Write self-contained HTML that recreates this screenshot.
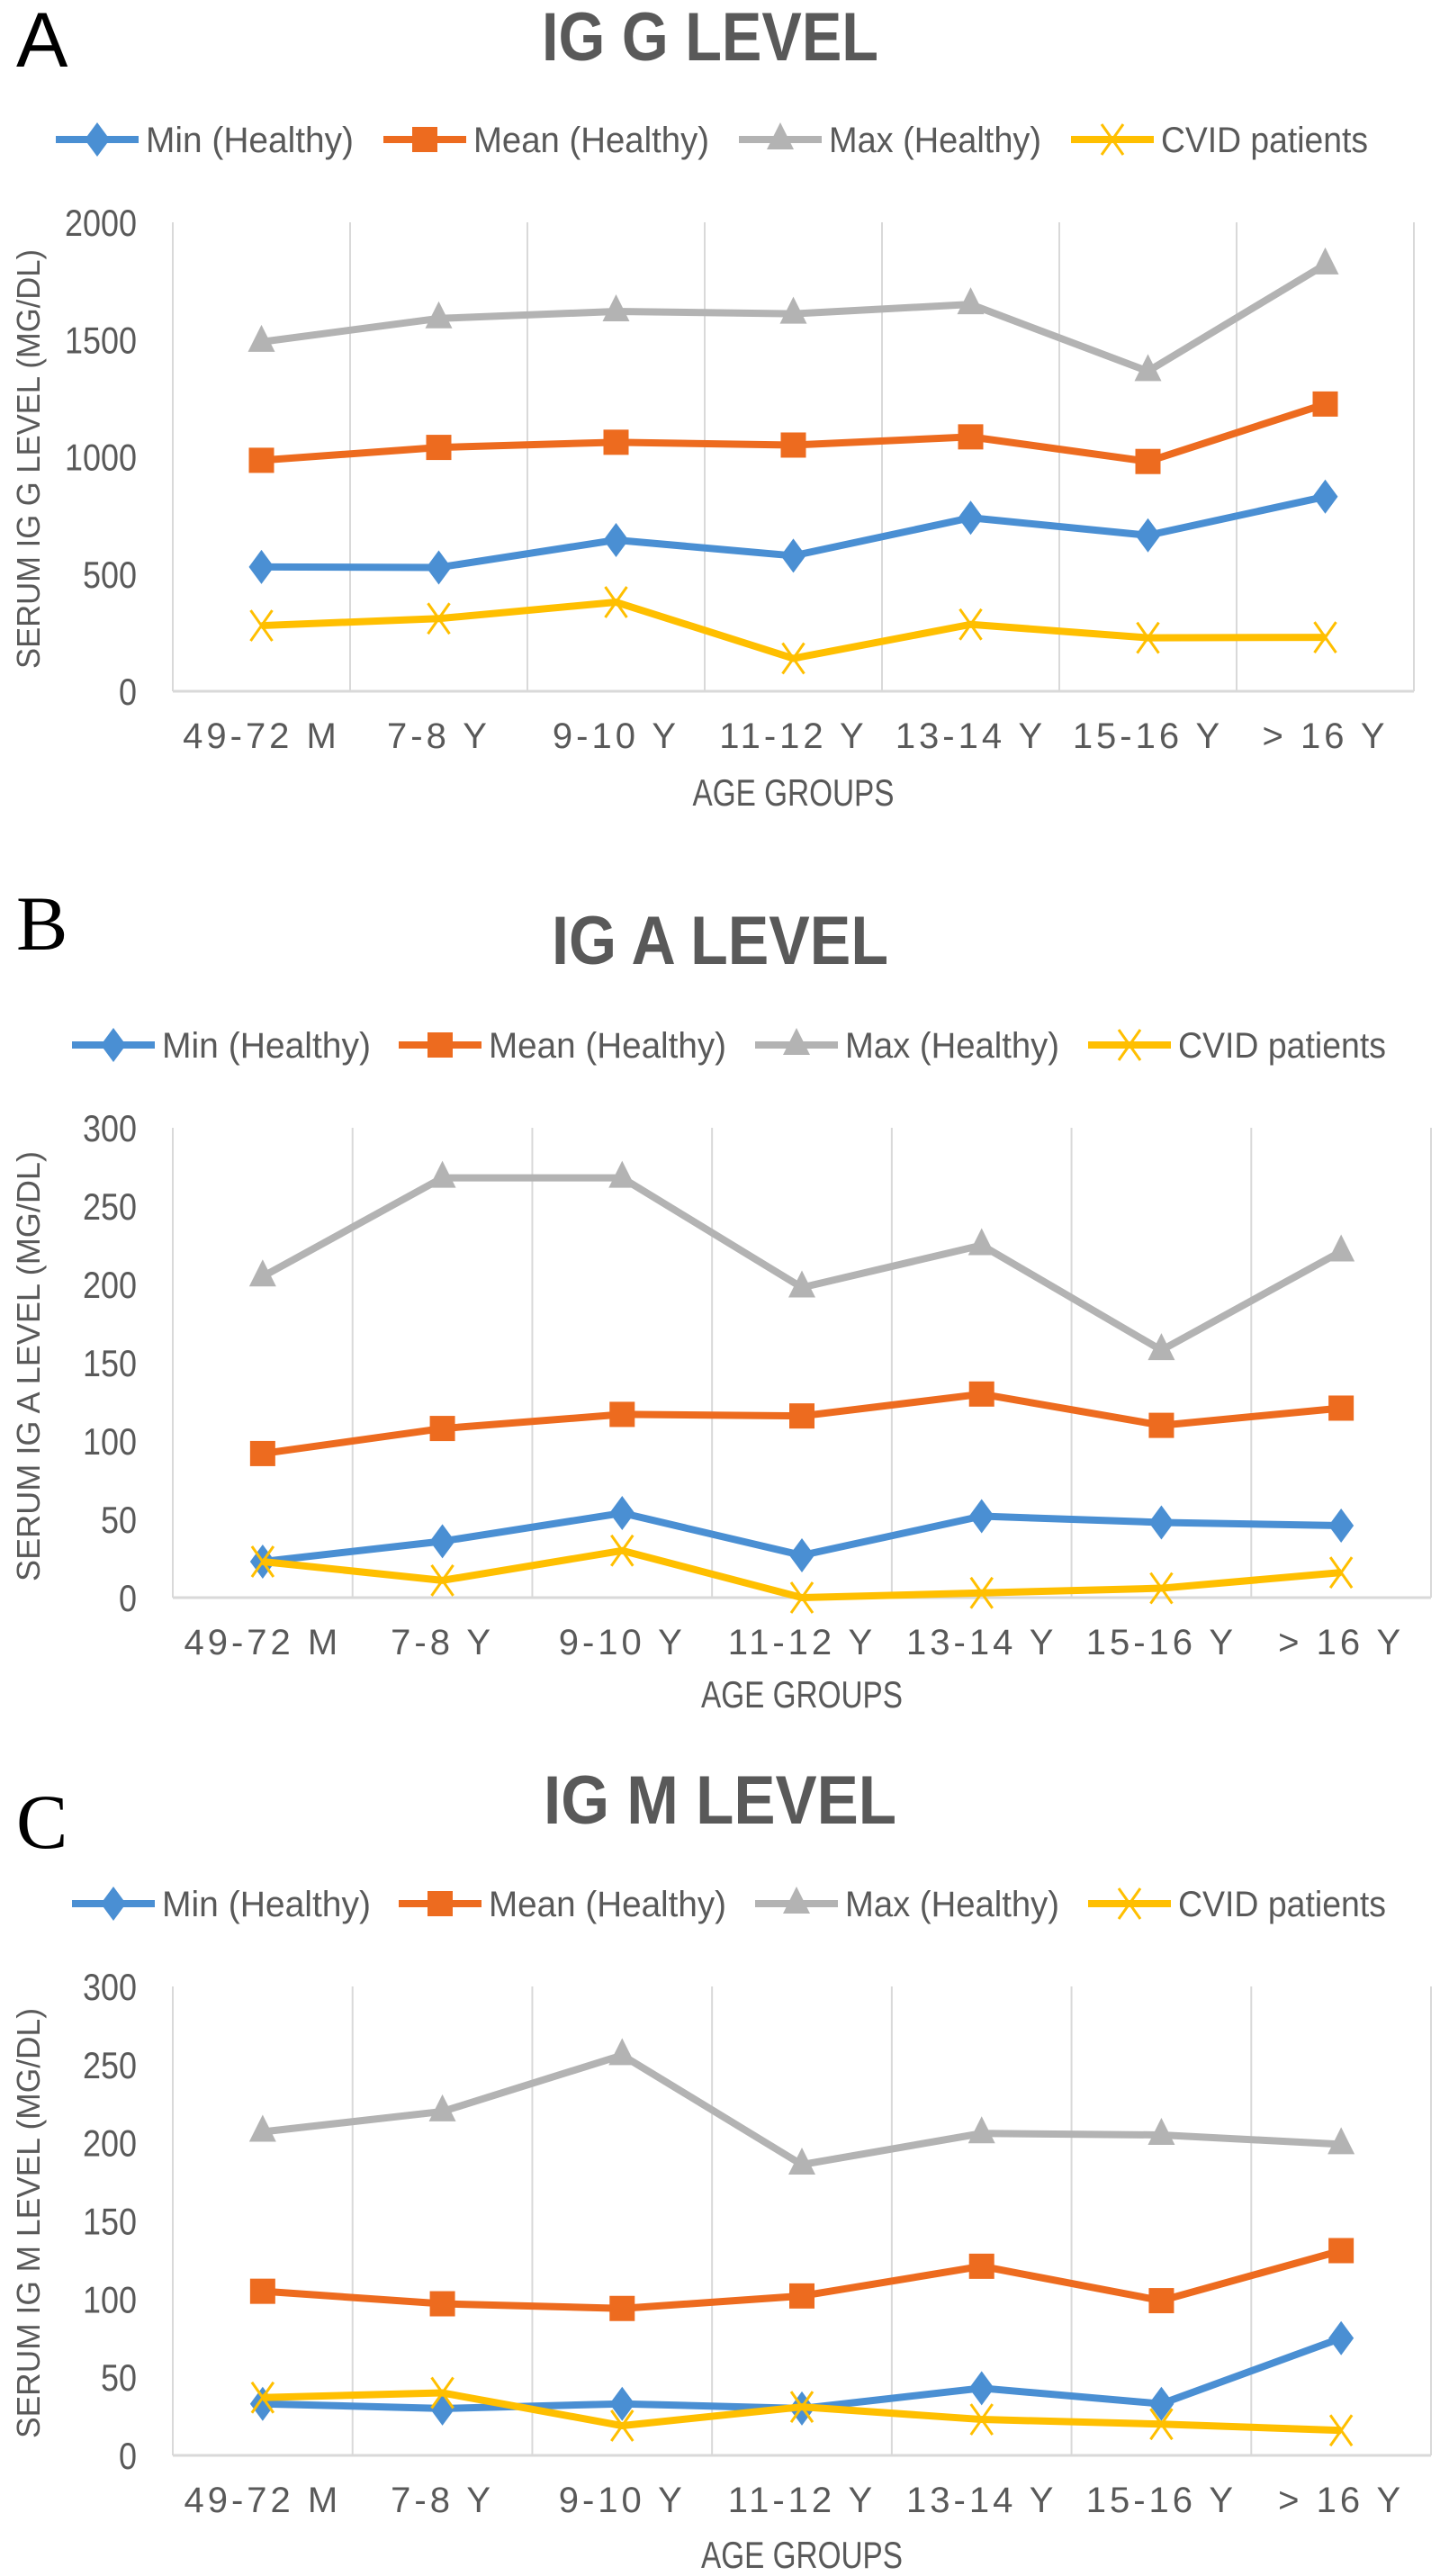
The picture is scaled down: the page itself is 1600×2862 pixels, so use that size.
<!DOCTYPE html>
<html><head><meta charset="utf-8">
<style>
html,body{margin:0;padding:0;background:#fff;}
svg{display:block;}
text{font-family:"Liberation Sans Narrow","Liberation Sans",sans-serif;}
</style></head>
<body>
<svg id="root" width="1600" height="2862" viewBox="0 0 1600 2862" xmlns="http://www.w3.org/2000/svg"></svg>
<script>
const categories = ["49-72 M","7-8 Y","9-10 Y","11-12 Y","13-14 Y","15-16 Y","> 16 Y"];
const seriesNames = ["Min (Healthy)","Mean (Healthy)","Max (Healthy)","CVID patients"];
// IgG
const iggMin  = [530,528,645,578,740,665,830];
const iggMean = [985,1040,1062,1050,1085,980,1225];
const iggMax  = [1490,1590,1620,1610,1650,1365,1820];
const iggCvid = [280,310,380,140,285,228,230];
const iggTicks = [0,500,1000,1500,2000];
// IgA
const igaMin  = [23,36,54,27,52,48,46];
const igaMean = [92,108,117,116,130,110,121];
const igaMax  = [205,268,268,198,225,158,221];
const igaCvid = [23,11,30,0,3,6,16];
const igaTicks = [0,50,100,150,200,250,300];
// IgM
const igmMin  = [33,30,33,30,43,33,75];
const igmMean = [105,97,94,102,121,99,131];
const igmMax  = [207,220,256,186,206,205,199];
const igmCvid = [37,40,19,31,23,20,16];
const igmTicks = [0,50,100,150,200,250,300];

const NS = "http://www.w3.org/2000/svg";
const root = document.getElementById('root');
const colors = ["#4a8fd3","#ed6b1f","#b3b3b3","#ffbf00"];
const markers = ["diamond","square","triangle","x"];

function mk(tag, attrs, parent){
  const e = document.createElementNS(NS, tag);
  for (const k in attrs) e.setAttribute(k, attrs[k]);
  (parent||root).appendChild(e);
  return e;
}
function marker(g, type, x, y, c){
  let m;
  if (type==="diamond") m = mk('path',{d:`M${x} ${y-19}L${x+14} ${y}L${x} ${y+19}L${x-14} ${y}Z`,fill:c},g);
  else if (type==="square") m = mk('rect',{x:x-14,y:y-14,width:28,height:28,fill:c},g);
  else if (type==="triangle") m = mk('path',{d:`M${x} ${y-19}L${x+15} ${y+11}L${x-15} ${y+11}Z`,fill:c},g);
  else m = mk('path',{d:`M${x-12} ${y-17}L${x+12} ${y+17}M${x+12} ${y-17}L${x-12} ${y+17}`,stroke:c,'stroke-width':3,fill:'none'},g);
  return m;
}

function chart(cfg){
  const g = mk('g',{});
  
  
  const L = mk('text',{x:18,y:cfg.letterY,'font-size':86,fill:'#000'},g);
  L.style.fontFamily = cfg.letterFont;
  L.textContent = cfg.letter;
  
  
  const T = mk('text',{x:cfg.titleX,y:cfg.titleY,'font-size':76,'font-weight':'bold',fill:'#595959','text-anchor':'middle',textLength:cfg.titleW,lengthAdjust:'spacingAndGlyphs'},g);
  T.textContent = cfg.title;
  
  
  for (let i=0;i<4;i++){
    const lg = mk('g',{},g);
    
    
    const lx = cfg.legendX[i];
    mk('line',{x1:lx,x2:lx+92,y1:cfg.legendY,y2:cfg.legendY,stroke:colors[i],'stroke-width':8},lg);
    marker(lg, markers[i], lx+46, cfg.legendY, colors[i]);
    const t = mk('text',{x:lx+100,y:cfg.legendY+14,'font-size':40,fill:'#595959',textLength:cfg.legendW[i],lengthAdjust:'spacingAndGlyphs'},lg);
    t.textContent = seriesNames[i];
  }
  const x0=192, x1=cfg.right, yTop=cfg.yTop, yBot=cfg.yBot;
  const n=categories.length, cw=(x1-x0)/n;
  const maxV = cfg.ticks[cfg.ticks.length-1];
  const xs = i => x0 + cw*(i+0.5);
  const ys = v => yBot - (v/maxV)*(yBot-yTop);
  for (let i=0;i<=n;i++){
    const gl = mk('line',{x1:x0+cw*i,x2:x0+cw*i,y1:yTop,y2:yBot,stroke:'#d9d9d9','stroke-width':2},g);
    
    
  }
  const ax = mk('line',{x1:x0,x2:x1,y1:yBot,y2:yBot,stroke:'#d9d9d9','stroke-width':3},g);
  
  
  cfg.ticks.forEach(v=>{
    const s = String(v);
    const t = mk('text',{x:152,y:ys(v)+15,'font-size':42,fill:'#595959','text-anchor':'end',textLength:s.length*20,lengthAdjust:'spacingAndGlyphs'},g);
    t.textContent = s;
    
    
  });
  categories.forEach((c,i)=>{
    const t = mk('text',{x:xs(i),y:cfg.xlabY+15,'font-size':40,fill:'#595959','text-anchor':'middle','letter-spacing':4},g);
    t.textContent = c;
    
    
  });
  const xt = mk('text',{x:(x0+x1)/2,y:cfg.xtitleY+15,'font-size':42,fill:'#595959','text-anchor':'middle',textLength:224,lengthAdjust:'spacingAndGlyphs'},g);
  xt.textContent='AGE GROUPS';
  
  
  const yt = mk('text',{x:0,y:0,'font-size':36,fill:'#595959','text-anchor':'middle',textLength:cfg.ytitleW,lengthAdjust:'spacingAndGlyphs',transform:`translate(44 ${cfg.ytitleC}) rotate(-90)`},g);
  yt.style.fontFamily='"Liberation Sans",sans-serif';
  yt.textContent=cfg.ytitle;
  
  
  cfg.series.forEach((arr,si)=>{
    const sg = mk('g',{},g);
    
    
    const pts = arr.map((v,i)=>xs(i)+','+ys(v)).join(' ');
    mk('polyline',{points:pts,fill:'none',stroke:colors[si],'stroke-width':8,'stroke-linejoin':'round'},sg);
    arr.forEach((v,i)=>{
      const m = marker(sg, markers[si], xs(i), ys(v), colors[si]);
      
      
    });
  });
}

chart({name:'igg-chart',letter:'A',letterFont:'"Liberation Sans Narrow","Liberation Sans",sans-serif',letterY:74,title:'IG G LEVEL',titleX:789,titleY:67,titleW:374,
  legendX:[62,426,821,1190],legendW:[231,262,236,230],legendY:155,right:1571,yTop:247,yBot:768,ticks:iggTicks,
  xlabY:816,xtitleY:880,ytitle:'SERUM IG G LEVEL (MG/DL)',ytitleW:466,ytitleC:510,series:[iggMin,iggMean,iggMax,iggCvid]});
chart({name:'iga-chart',letter:'B',letterFont:'"Liberation Serif",serif',letterY:1055,title:'IG A LEVEL',titleX:800,titleY:1071,titleW:374,
  legendX:[80,443,839,1209],legendW:[232,264,238,231],legendY:1161,right:1590,yTop:1253,yBot:1775,ticks:igaTicks,
  xlabY:1823,xtitleY:1882,ytitle:'SERUM IG A LEVEL (MG/DL)',ytitleW:478,ytitleC:1518,series:[igaMin,igaMean,igaMax,igaCvid]});
chart({name:'igm-chart',letter:'C',letterFont:'"Liberation Serif",serif',letterY:2053,title:'IG M LEVEL',titleX:800,titleY:2026,titleW:392,
  legendX:[80,443,839,1209],legendW:[232,264,238,231],legendY:2115,right:1590,yTop:2207,yBot:2728,ticks:igmTicks,
  xlabY:2776,xtitleY:2838,ytitle:'SERUM IG M LEVEL (MG/DL)',ytitleW:478,ytitleC:2470,series:[igmMin,igmMean,igmMax,igmCvid]});
</script>
</body></html>
